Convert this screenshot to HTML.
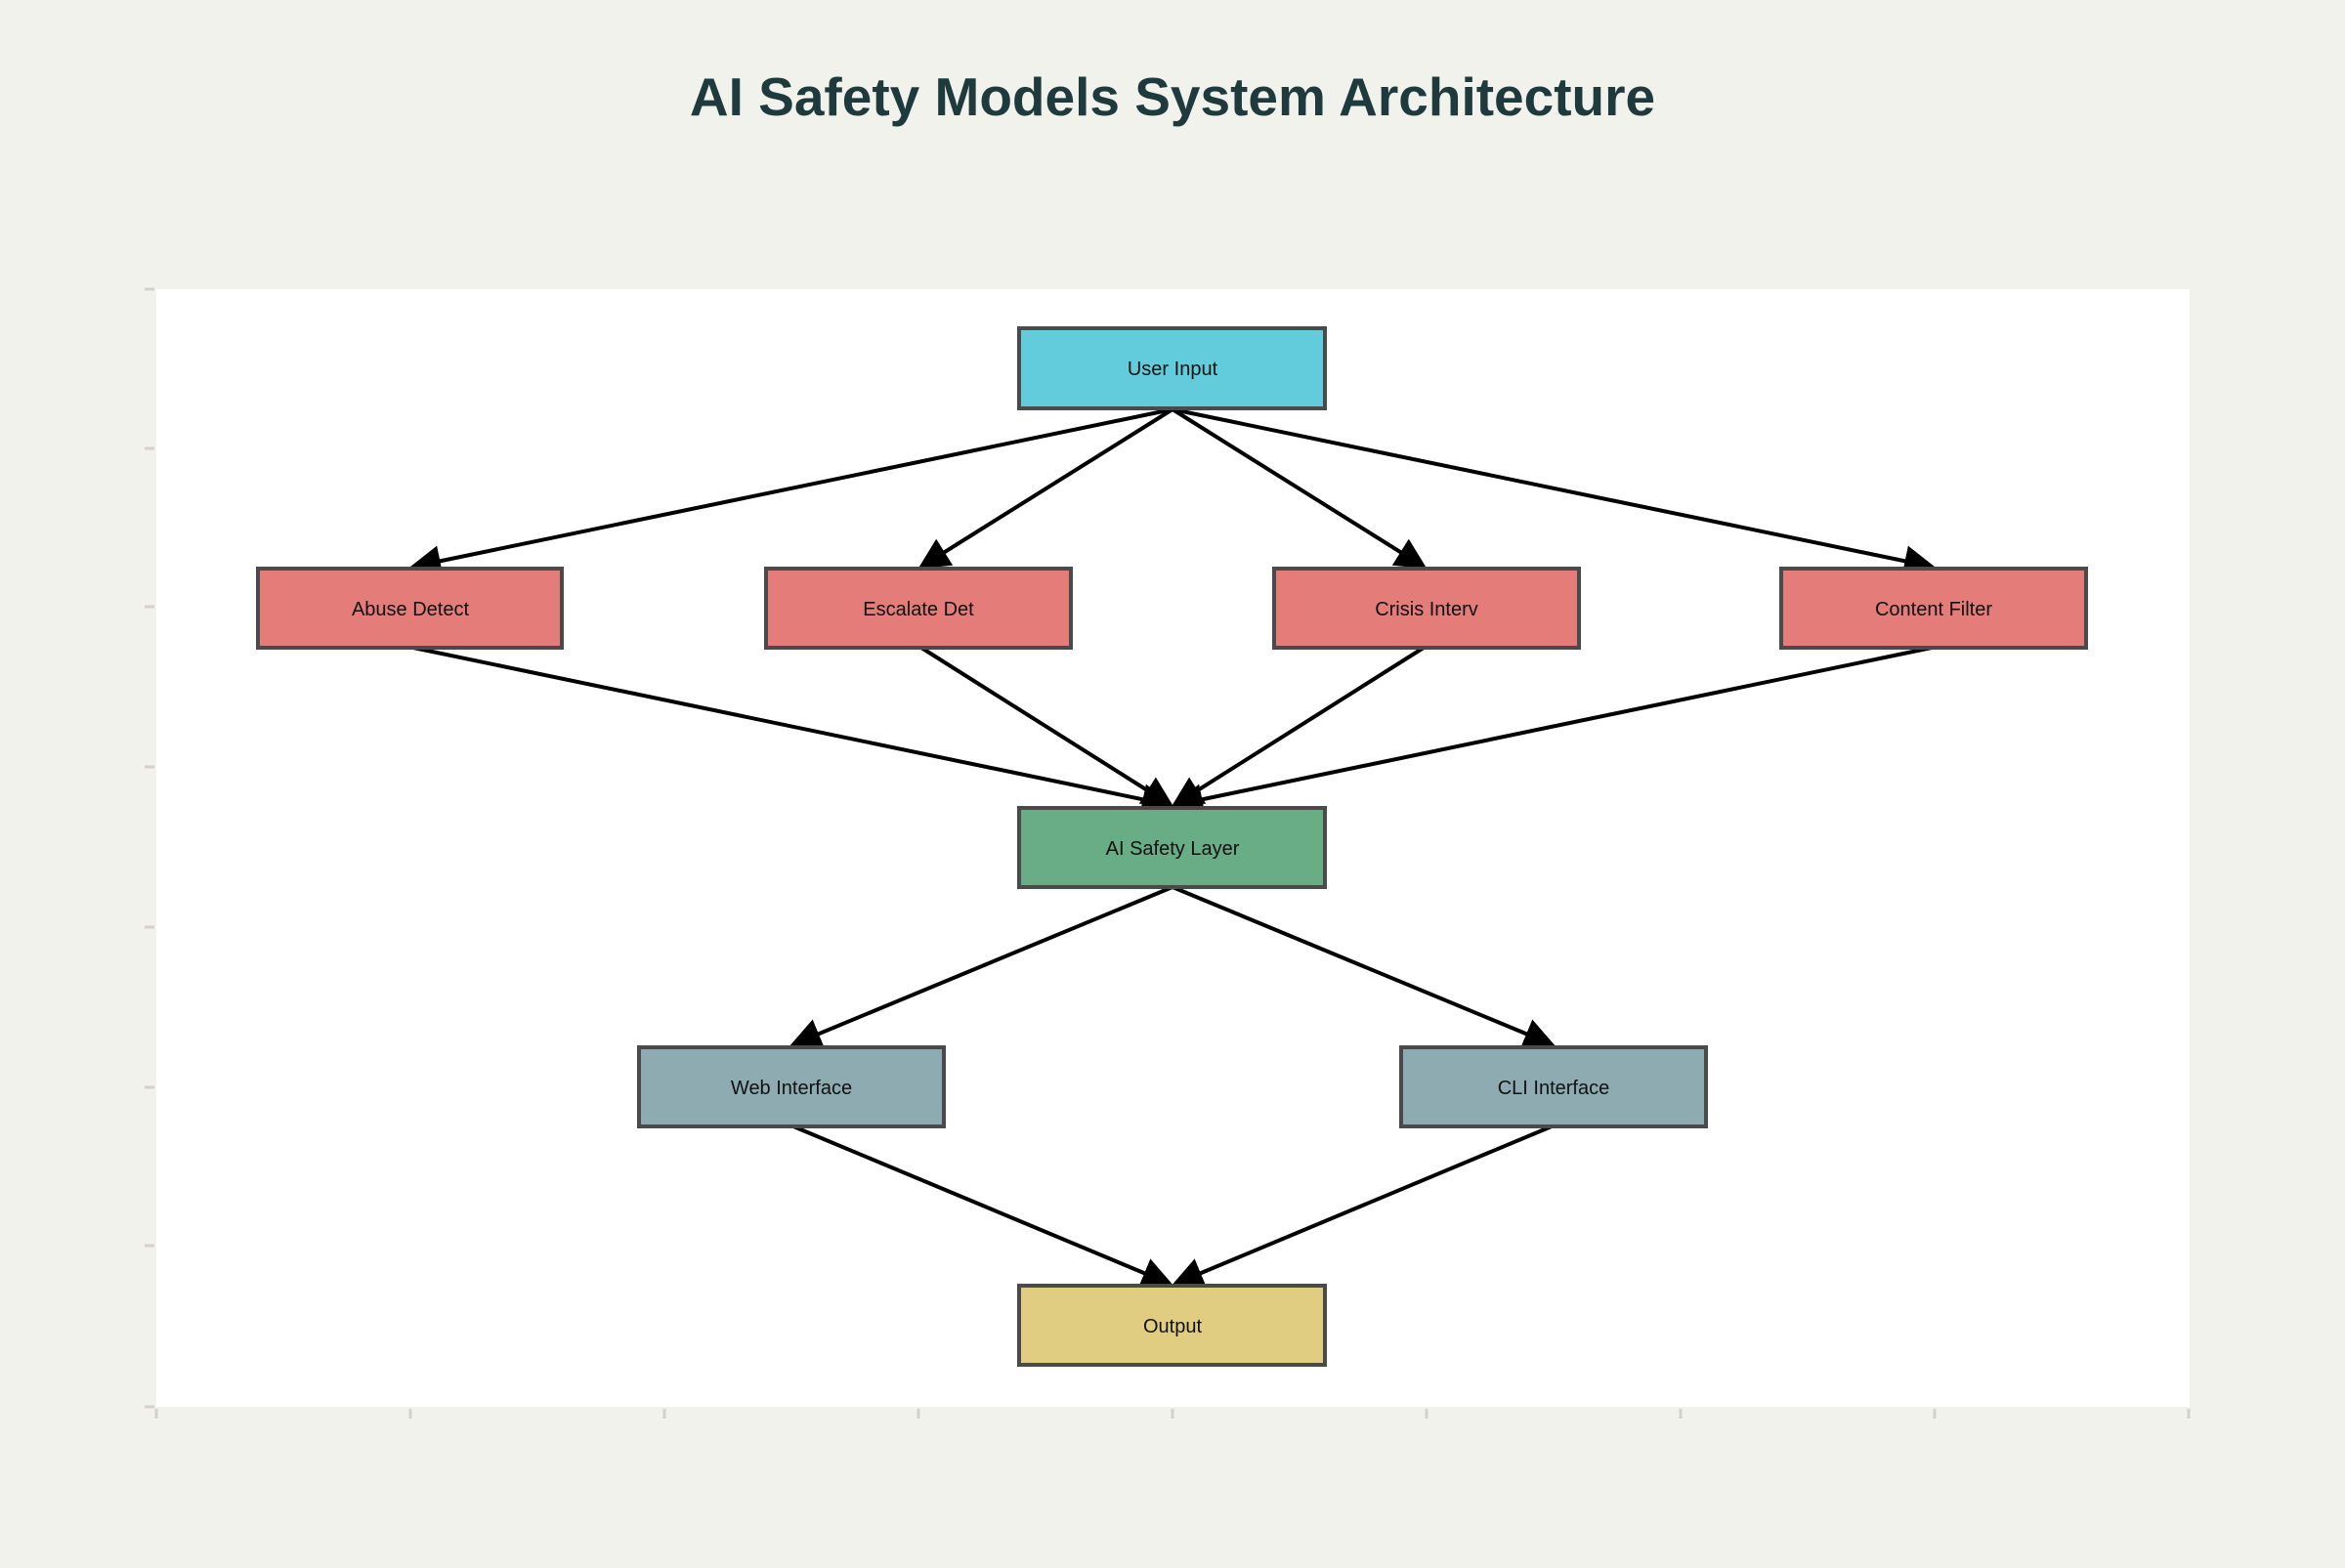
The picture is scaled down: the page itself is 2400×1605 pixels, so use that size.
<!DOCTYPE html>
<html><head><style>
html,body{margin:0;padding:0;background:#f2f2ec;}
</style></head><body>
<svg width="2400" height="1600" xmlns="http://www.w3.org/2000/svg" font-family="Liberation Sans, sans-serif">
<rect width="2400" height="1600" fill="#f2f2ec"/>
<text x="1200" y="118" text-anchor="middle" font-size="55" font-weight="bold" fill="#1f3a3d">AI Safety Models System Architecture</text>
<rect x="160" y="296" width="2081" height="1144" fill="#ffffff"/>
<g stroke="#d4d0cc" stroke-width="3">
<line x1="148" y1="296" x2="158" y2="296"/><line x1="148" y1="459" x2="158" y2="459"/>
<line x1="148" y1="621" x2="158" y2="621"/><line x1="148" y1="785" x2="158" y2="785"/>
<line x1="148" y1="949" x2="158" y2="949"/><line x1="148" y1="1113" x2="158" y2="1113"/>
<line x1="148" y1="1275" x2="158" y2="1275"/><line x1="148" y1="1440" x2="158" y2="1440"/>
<line x1="160" y1="1442" x2="160" y2="1452"/><line x1="420" y1="1442" x2="420" y2="1452"/>
<line x1="680" y1="1442" x2="680" y2="1452"/><line x1="940" y1="1442" x2="940" y2="1452"/>
<line x1="1200" y1="1442" x2="1200" y2="1452"/><line x1="1460" y1="1442" x2="1460" y2="1452"/>
<line x1="1720" y1="1442" x2="1720" y2="1452"/><line x1="1980" y1="1442" x2="1980" y2="1452"/>
<line x1="2240" y1="1442" x2="2240" y2="1452"/>
</g>
<defs><marker id="a" markerWidth="8" markerHeight="8" refX="7" refY="4" orient="auto" markerUnits="strokeWidth"><path d="M0,0 L8,4 L0,8 z" fill="#000"/></marker></defs>
<g stroke="#000" stroke-width="4" marker-end="url(#a)">
<line x1="1200" y1="419" x2="423" y2="580"/>
<line x1="1200" y1="419" x2="943" y2="580"/>
<line x1="1200" y1="419" x2="1457" y2="580"/>
<line x1="1200" y1="419" x2="1977" y2="580"/>
<line x1="423" y1="663" x2="1197" y2="824"/>
<line x1="943" y1="663" x2="1198" y2="824"/>
<line x1="1457" y1="663" x2="1202" y2="824"/>
<line x1="1977" y1="663" x2="1203" y2="824"/>
<line x1="1200" y1="908" x2="812" y2="1069"/>
<line x1="1200" y1="908" x2="1588" y2="1069"/>
<line x1="812" y1="1153" x2="1197" y2="1314"/>
<line x1="1588" y1="1153" x2="1203" y2="1314"/>
</g>
<g stroke="#4a4a4a" stroke-width="4" font-size="20">
<rect x="1043" y="336" width="313" height="82" fill="#62ccdc"/>
<rect x="264" y="582" width="311" height="81" fill="#e47c7a"/>
<rect x="784" y="582" width="312" height="81" fill="#e47c7a"/>
<rect x="1304" y="582" width="312" height="81" fill="#e47c7a"/>
<rect x="1823" y="582" width="312" height="81" fill="#e47c7a"/>
<rect x="1043" y="827" width="313" height="81" fill="#68ad86"/>
<rect x="654" y="1072" width="312" height="81" fill="#8fabb2"/>
<rect x="1434" y="1072" width="312" height="81" fill="#8fabb2"/>
<rect x="1043" y="1316" width="313" height="81" fill="#e0cd82"/>
</g>
<g font-size="20" text-anchor="middle" fill="#111">
<text x="1200" y="384">User Input</text>
<text x="420" y="630">Abuse Detect</text>
<text x="940" y="630">Escalate Det</text>
<text x="1460" y="630">Crisis Interv</text>
<text x="1979" y="630">Content Filter</text>
<text x="1200" y="875">AI Safety Layer</text>
<text x="810" y="1120">Web Interface</text>
<text x="1590" y="1120">CLI Interface</text>
<text x="1200" y="1364">Output</text>
</g>
</svg>
</body></html>
